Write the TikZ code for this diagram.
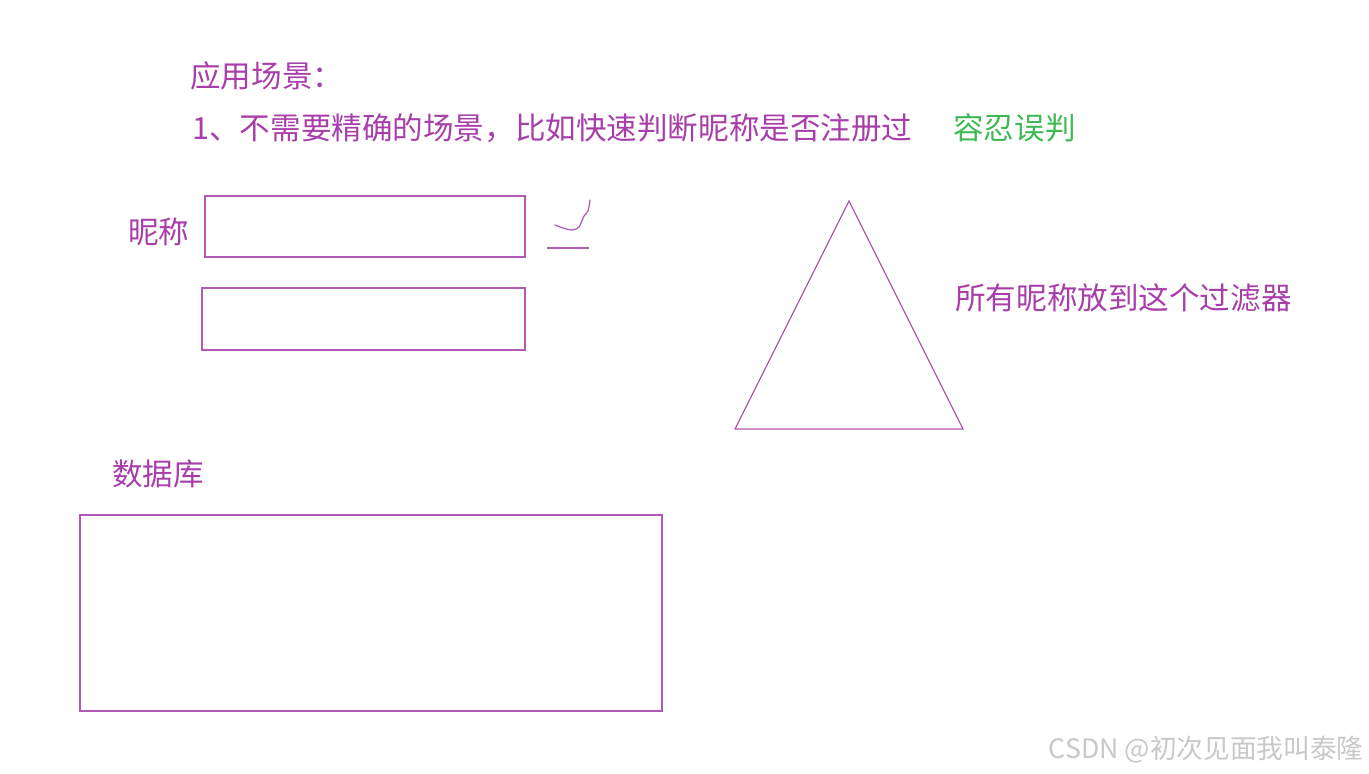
\documentclass[tikz,border=0pt]{standalone}
\usepackage{fontspec}
\setmainfont{Noto Sans CJK SC}
\usepackage{xcolor}
\definecolor{notepurple}{RGB}{168,62,170}
\definecolor{inkpurple}{RGB}{178,88,182}
\definecolor{notegreen}{RGB}{62,186,84}
\definecolor{markgray}{RGB}{200,200,200}

\begin{document}
\begin{tikzpicture}[x=0.02cm, y=-0.02cm,
    note/.style={anchor=west, inner sep=0pt, text=notepurple, font=\fontsize{17.4pt}{20pt}\selectfont},
    ink/.style={draw=inkpurple, line width=0.7pt}]
\useasboundingbox (0,0) rectangle (1369,774);

% Heading lines
\node[note] (scene) at (190,76) {应用场景：};
\node[note] (case) at (192,128) {1、不需要精确的场景，比如快速判断昵称是否注册过};
\node[note, text=notegreen] (tolerate) at (953,128) {容忍误判};

% Nickname boxes
\node[note] (nick) at (128,232) {昵称};
\draw[ink] (205,196) rectangle (525,257);
\draw[ink] (202,288) rectangle (525,350);

% Hand-drawn tick
\draw[ink, line cap=round] plot[smooth] coordinates {(555,225) (563,228) (572,230) (579,227) (584,216) (588,211) (590,200)};
\draw[ink] (547,248) -- (589,248);

% Filter triangle
\draw[ink] (849,201) -- (963,429) -- (735,429) -- cycle;
\node[note] (filter) at (955,298) {所有昵称放到这个过滤器};

% Database
\node[note] (db) at (112,474) {数据库};
\draw[ink] (80,515) rectangle (662,711);

% Watermark
\node[anchor=east, inner sep=0pt, text=markgray, font=\fontsize{15.2pt}{18pt}\selectfont] (mark) at (1364,750) {CSDN @初次见面我叫泰隆};
\end{tikzpicture}
\end{document}
